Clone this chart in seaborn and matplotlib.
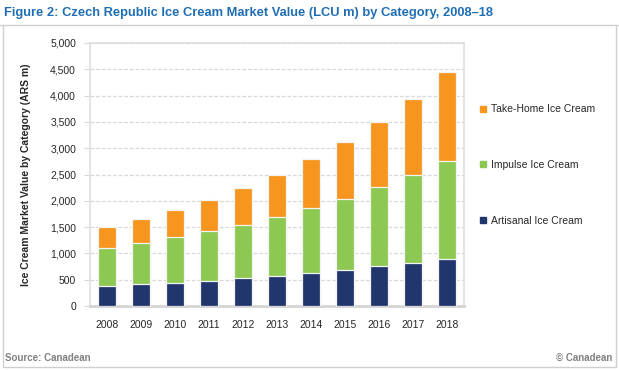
import numpy as np
import pandas as pd
import seaborn as sns
import matplotlib.pyplot as plt
from matplotlib.lines import Line2D
from matplotlib.ticker import FuncFormatter

years = ["2008", "2009", "2010", "2011", "2012", "2013", "2014", "2015", "2016", "2017", "2018"]
artisanal = [376, 414, 439, 477, 528, 579, 623, 687, 751, 814, 891]
impulse = [725, 782, 872, 948, 1018, 1114, 1241, 1349, 1514, 1686, 1863]
take_home = [393, 451, 508, 598, 699, 807, 922, 1088, 1234, 1437, 1698]

series_names = ["Take-Home Ice Cream", "Impulse Ice Cream", "Artisanal Ice Cream"]
colors = {"Take-Home Ice Cream": "#f7961e",
          "Impulse Ice Cream": "#8dc853",
          "Artisanal Ice Cream": "#22366e"}

df = pd.DataFrame({"year": years, "Artisanal": artisanal,
                   "Impulse": impulse, "Take-Home": take_home})
# cumulative heights for stacking by overlay
df["top_art"] = df["Artisanal"]
df["top_imp"] = df["Artisanal"] + df["Impulse"]
df["top_all"] = df["top_imp"] + df["Take-Home"]

sns.set_style("white")
plt.rcParams["font.family"] = ["Liberation Sans", "DejaVu Sans"]

W, H = 619, 370
fig = plt.figure(figsize=(W / 100, H / 100), dpi=100)

def px(x0, y0, x1, y1):
    return [x0 / W, 1 - y1 / H, (x1 - x0) / W, (y1 - y0) / H]

ax = fig.add_axes(px(90, 43, 464, 306))

# draw stacked bars: tallest first, then overlay lower segments
for col, name in [("top_all", "Take-Home Ice Cream"),
                  ("top_imp", "Impulse Ice Cream"),
                  ("top_art", "Artisanal Ice Cream")]:
    sns.barplot(data=df, x="year", y=col, color=colors[name], width=0.53,
                saturation=1, edgecolor="#f4f4f4", linewidth=0.9, ax=ax, zorder=3)

ax.set_ylim(0, 5000)
ax.set_xlim(-0.5, len(years) - 0.5)
ax.set_yticks(np.arange(0, 5001, 500))
ax.yaxis.set_major_formatter(FuncFormatter(lambda v, p: f"{int(v):,}"))
ax.grid(axis="y", color="#d9d9d9", linestyle=(0, (3, 1.5)), linewidth=0.9, zorder=0)
ax.set_axisbelow(True)
for s in ax.spines.values():
    s.set_visible(True)
    s.set_color("#dedede")
    s.set_linewidth(1.2)
ax.spines["bottom"].set_color("#d4d4d4")
ax.spines["bottom"].set_linewidth(2)
ax.tick_params(axis="y", length=4, color="#d9d9d9", labelsize=7.5, pad=6, left=True)
ax.tick_params(axis="x", length=0, labelsize=7.5, pad=10)
ax.set_xlabel("")
ax.set_ylabel("Ice Cream Market Value by Category (ARS m)", fontsize=7.5,
              fontweight="bold", labelpad=10)
ax.yaxis.set_label_coords(-0.159, 0.5)

handles = [Line2D([], [], marker="s", linestyle="", markersize=4,
                  markerfacecolor=colors[n], markeredgecolor=colors[n]) for n in series_names]
fig.legend(handles, series_names, loc="upper left", bbox_to_anchor=(475 / W, 1 - 100 / H),
           frameon=False, fontsize=7.5, handlelength=0.8, handletextpad=0.3,
           labelspacing=4.4, borderaxespad=0)

# title and footer
fig.text(4 / W, 1 - 13 / H, "Figure 2: Czech Republic Ice Cream Market Value (LCU m) by Category, 2008\u201318",
         fontsize=9.3, fontweight="bold", color="#1f6eb4", va="center", ha="left")
fig.text(5 / W, 1 - 358 / H, "Source: Canadean", fontsize=7, fontweight="bold",
         color="#808080", va="center", ha="left")
fig.text(612 / W, 1 - 358 / H, "\u00a9 Canadean", fontsize=7, fontweight="bold",
         color="#808080", va="center", ha="right")

# frame lines around the figure box
frame_kw = dict(color="#cfcfcf", linewidth=1, transform=fig.transFigure)
fig.add_artist(Line2D([0, 1], [1 - 25 / H, 1 - 25 / H], **frame_kw))
fig.add_artist(Line2D([3 / W, 3 / W], [1 - 25 / H, 1 - 367 / H], **frame_kw))
fig.add_artist(Line2D([616 / W, 616 / W], [1 - 25 / H, 1 - 367 / H], **frame_kw))
fig.add_artist(Line2D([3 / W, 616 / W], [1 - 367 / H, 1 - 367 / H], **frame_kw))

fig.savefig("out.png", dpi=100)
